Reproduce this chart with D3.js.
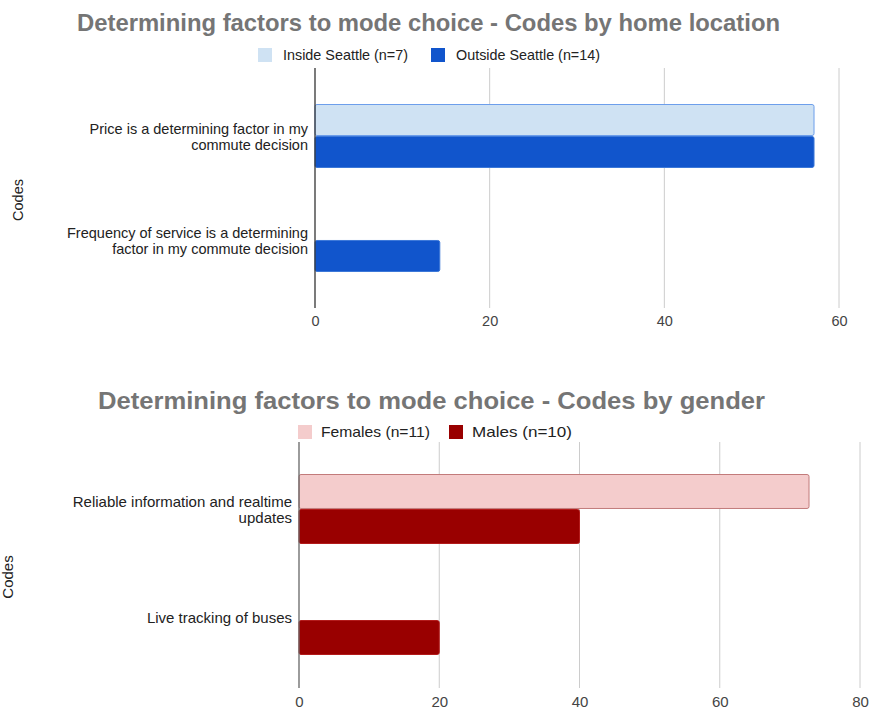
<!DOCTYPE html>
<html>
<head>
<meta charset="utf-8">
<script src="https://cdn.jsdelivr.net/npm/d3@7"></script>
<style>
  html, body { margin: 0; padding: 0; background: #fff; }
  svg { display: block; font-family: "Liberation Sans", Arial, sans-serif; }
</style>
</head>
<body>
<svg id="chart" width="875" height="713"></svg>
<script>
// ---- Chart 1: codes by home location ----
const homeCategories = [
  "Price is a determining factor in my\ncommute decision",
  "Frequency  of service is a determining\nfactor in my commute decision"
];
const homeSeries = ["Inside Seattle (n=7)", "Outside Seattle (n=14)"];
const homeInside = [57.14, 0];
const homeOutside = [57.14, 14.29];
const homeTicks = [0, 20, 40, 60];

// ---- Chart 2: codes by gender ----
const genderCategories = [
  "Reliable information and realtime\nupdates",
  "Live tracking of buses"
];
const genderSeries = ["Females (n=11)", "Males (n=10)"];
const genderFemales = [72.73, 0];
const genderMales = [40, 20];
const genderTicks = [0, 20, 40, 60, 80];

const svg = d3.select("#chart");

function drawChart(cfg) {
  const g = svg.append("g");
  const fs = cfg.fontSize;

  // title
  g.append("text")
    .attr("x", cfg.titleX).attr("y", cfg.titleY)
    .attr("text-anchor", "middle")
    .attr("font-size", 24).attr("font-weight", "bold")
    .attr("fill", "#757575")
    .attr("textLength", cfg.titleLen)
    .attr("lengthAdjust", "spacingAndGlyphs")
    .text(cfg.title);

  // legend
  cfg.series.forEach((s, i) => {
    const lx = cfg.legendX[i];
    g.append("rect")
      .attr("x", lx).attr("y", cfg.legendY - 7)
      .attr("width", 14).attr("height", 14)
      .attr("fill", cfg.fills[i]);
    g.append("text")
      .attr("x", lx + cfg.legendGap).attr("y", cfg.legendY + 5)
      .attr("font-size", fs).attr("fill", "#222")
      .attr("textLength", cfg.legendLen[i])
      .attr("lengthAdjust", "spacingAndGlyphs")
      .text(s);
  });

  const x = d3.scaleLinear().domain(cfg.domain).range(cfg.xRange);
  const y = d3.scaleBand().domain(cfg.categories).range(cfg.yRange);
  const y1 = d3.scaleBand().domain(cfg.series).range([0, cfg.groupH]).paddingInner(0.03);

  // gridlines
  g.append("g").selectAll("line")
    .data(cfg.ticks.filter(t => t !== 0))
    .join("line")
    .attr("x1", d => x(d)).attr("x2", d => x(d))
    .attr("y1", cfg.plotTop).attr("y2", cfg.plotBottom)
    .attr("stroke", "#cccccc").attr("stroke-width", 1);

  // tick labels via axis
  const axis = g.append("g")
    .attr("transform", `translate(0,${cfg.plotBottom + 8})`)
    .call(d3.axisBottom(x).tickValues(cfg.ticks).tickSize(0).tickPadding(0));
  axis.select(".domain").remove();
  axis.selectAll("text")
    .attr("font-size", fs).attr("fill", "#444")
    .attr("font-family", "\"Liberation Sans\", Arial, sans-serif");

  // bars
  const values = [cfg.valuesA, cfg.valuesB];
  cfg.series.forEach((s, si) => {
    g.append("g").selectAll("rect")
      .data(cfg.categories.map((c, ci) => ({ c, v: values[si][ci] })).filter(d => d.v > 0))
      .join("rect")
      .attr("x", x(0))
      .attr("y", d => y(d.c) + (y.bandwidth() - cfg.groupH) / 2 + y1(s))
      .attr("width", d => x(d.v) - x(0))
      .attr("height", y1.bandwidth())
      .attr("rx", 2)
      .attr("fill", cfg.fills[si])
      .attr("stroke", cfg.strokes[si]).attr("stroke-width", 1);
  });

  // baseline (value axis zero line)
  g.append("line")
    .attr("x1", x(0)).attr("x2", x(0))
    .attr("y1", cfg.plotTop).attr("y2", cfg.plotBottom)
    .attr("stroke", cfg.baseColor).attr("stroke-width", 1.3);

  // category labels
  cfg.categories.forEach(c => {
    const lines = c.split("\n");
    const cy = y(c) + y.bandwidth() / 2;
    const t = g.append("text")
      .attr("text-anchor", "end")
      .attr("font-size", fs).attr("fill", "#222");
    lines.forEach((ln, li) => {
      t.append("tspan")
        .attr("x", x(0) - 7)
        .attr("y", cy - (lines.length - 1) * 5 + li * 16 + 3)
        .text(ln);
    });
  });

  // axis title
  g.append("text")
    .attr("transform", `translate(${cfg.axisTitleX},${cfg.axisTitleY}) rotate(-90)`)
    .attr("text-anchor", "middle")
    .attr("font-size", fs).attr("fill", "#222")
    .text("Codes");
}

drawChart({
  title: "Determining factors to mode choice - Codes by home location",
  titleX: 428.5, titleY: 31, titleLen: 703, fontSize: 14.5,
  series: homeSeries, legendX: [258, 431], legendY: 55, legendGap: 25,
  legendLen: [125, 144],
  fills: ["#cfe2f3", "#1155cc"], strokes: ["#6d9eeb", "#3c78d8"],
  categories: homeCategories, valuesA: homeInside, valuesB: homeOutside,
  ticks: homeTicks, domain: [0, 60], xRange: [315, 839],
  yRange: [84, 292], groupH: 63, plotTop: 68, plotBottom: 308,
  baseColor: "#333", axisTitleX: 23, axisTitleY: 200
});

drawChart({
  title: "Determining factors to mode choice - Codes by gender",
  titleX: 431.5, titleY: 409, titleLen: 667, fontSize: 15,
  series: genderSeries, legendX: [298, 449], legendY: 432, legendGap: 23,
  legendLen: [109, 100],
  fills: ["#f4cccc", "#990000"], strokes: ["#c27b7b", "#b31b1b"],
  categories: genderCategories, valuesA: genderFemales, valuesB: genderMales,
  ticks: genderTicks, domain: [0, 80], xRange: [299, 860],
  yRange: [453.5, 675.5], groupH: 69, plotTop: 442, plotBottom: 688,
  baseColor: "#666", axisTitleX: 13, axisTitleY: 577
});
</script>
</body>
</html>
